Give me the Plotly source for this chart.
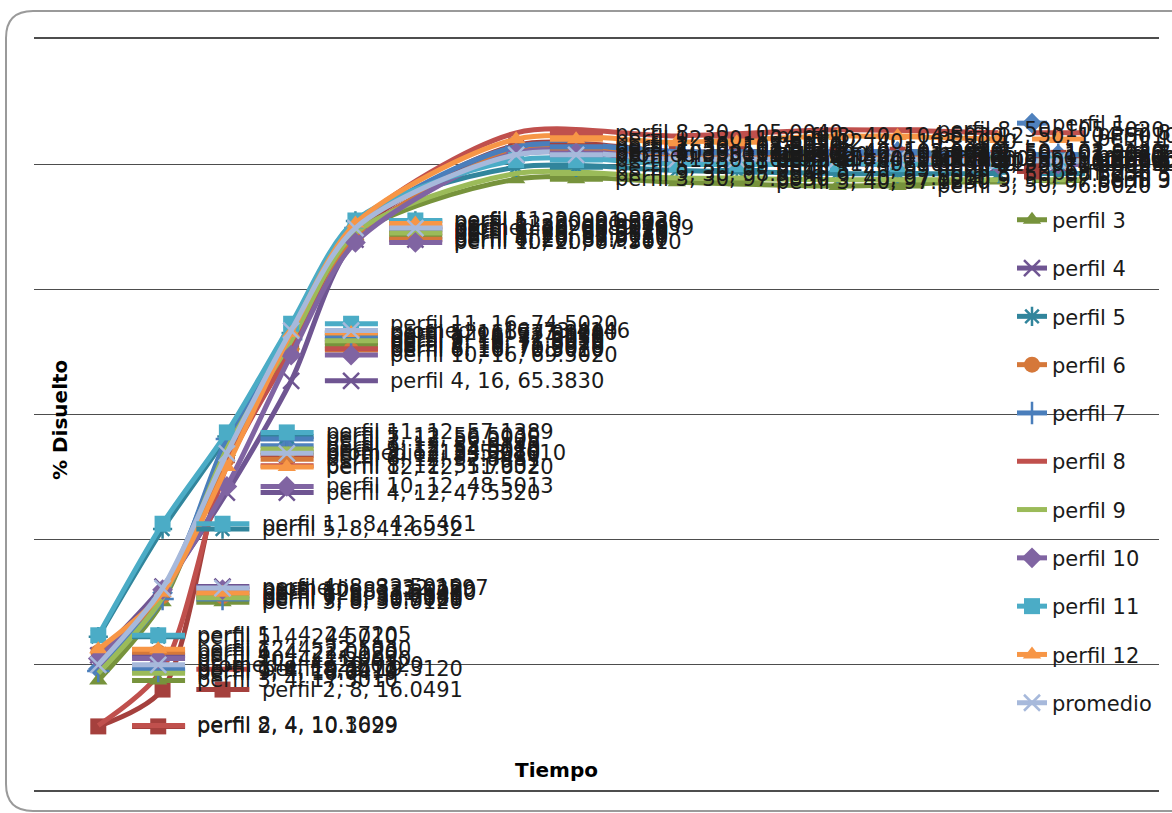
import plotly.graph_objects as go

# ---- data ----
tiempo = [4, 8, 12, 16, 20, 30, 40, 50, 60]

series_names = ["perfil 1", "perfil 2", "perfil 3", "perfil 4", "perfil 5", "perfil 6",
                "perfil 7", "perfil 8", "perfil 9", "perfil 10", "perfil 11", "perfil 12",
                "promedio"]

perfil_1 = [19.3412, 31.5120, 55.0140, 72.5010, 89.5120, 102.5030, 101.5210, 102.0140, 101.5020]
perfil_2 = [10.1629, 16.0491, 53.5010, 71.5020, 89.0110, 103.0120, 102.0040, 101.5020, 101.0030]
perfil_3 = [17.5010, 30.0120, 54.0010, 71.0070, 88.5010, 97.6030, 97.1230, 96.5020, 97.3905]
perfil_4 = [21.5030, 32.5010, 47.5320, 65.3830, 87.9287, 101.5030, 100.5040, 100.0020, 100.0010]
perfil_5 = [24.5010, 41.6932, 56.5030, 73.0120, 90.9373, 99.5010, 99.0020, 98.5030, 98.5010]
perfil_6 = [22.0120, 31.0040, 52.8481, 70.3010, 88.0110, 102.0030, 101.0040, 101.0010, 100.5020]
perfil_7 = [19.0010, 30.5020, 56.0905, 72.0050, 89.8010, 102.8020, 102.0010, 101.8030, 101.5040]
perfil_8 = [10.3099, 19.3120, 51.7932, 70.5020, 90.0040, 105.0040, 104.5030, 105.5020, 105.0010]
perfil_9 = [18.6479, 30.7381, 54.5020, 71.8010, 89.0120, 98.5040, 97.8010, 97.5030, 97.5020]
perfil_10 = [21.0030, 32.0120, 48.5013, 69.5020, 87.5010, 101.8010, 100.8030, 100.5010, 100.0040]
perfil_11 = [24.7205, 42.5461, 57.1389, 74.5020, 91.0020, 100.6549, 100.0040, 100.0030, 100.5020]
perfil_12 = [22.5030, 31.5010, 51.6020, 73.0040, 90.5030, 104.0010, 103.5020, 104.5010, 104.0030]
promedio = [20.0120, 32.2597, 53.8010, 73.4146, 89.7939, 101.5020, 100.8010, 100.8030, 100.5010]

valores = [perfil_1, perfil_2, perfil_3, perfil_4, perfil_5, perfil_6, perfil_7,
           perfil_8, perfil_9, perfil_10, perfil_11, perfil_12, promedio]

# ---- styles ----
colores = ["#4F81BD", "#A5403D", "#77933C", "#6F5592", "#31859C", "#D5783A",
           "#4A7EBB", "#C0504D", "#9BBB59", "#8064A2", "#4BACC6", "#F79646", "#A7B9DB"]
simbolos = ["diamond", "square", "triangle-up", "x-thin-open", "asterisk-open", "circle",
            "cross-thin-open", None, None, "diamond", "square", "triangle-up", "x-thin-open"]

FONT = "DejaVu Sans"
X0, X1 = 34, 1159      # plot-area pixel extents
Y0, Y1 = 790, 39

def px_x(p):
    return (p - X0) / (X1 - X0)

def px_y(p):
    return (Y0 - p) / (Y0 - Y1)

fig = go.Figure()

def marker_for(sym, col, size):
    if sym is None:
        return None
    open_sym = sym.endswith("open")
    return dict(symbol=sym, size=size, color=col,
                line=dict(color=col, width=2.5 if open_sym else 0))

# main series
for i, (name, vals) in enumerate(zip(series_names, valores)):
    sym = simbolos[i]
    col = colores[i]
    fig.add_trace(go.Scatter(
        x=tiempo, y=vals, name=name, legendgroup=name,
        mode="lines+markers" if sym else "lines",
        line=dict(color=col, width=5, shape="spline", smoothing=0.8),
        marker=marker_for(sym, col, 16) if sym else None,
        cliponaxis=False,
    ))

# data-label legend keys (line segment + marker to the right of each point)
K_START, K_MID, K_END = 2.1, 3.73, 5.4
for i, (name, vals) in enumerate(zip(series_names, valores)):
    sym = simbolos[i]
    col = colores[i]
    kx, ky = [], []
    for t, v in zip(tiempo, vals):
        kx += [t + K_START, t + K_END, None]
        ky += [v, v, None]
    fig.add_trace(go.Scatter(x=kx, y=ky, mode="lines", showlegend=False,
                             line=dict(color=col, width=5), hoverinfo="skip",
                             cliponaxis=False))
    if sym:
        fig.add_trace(go.Scatter(x=[t + K_MID for t in tiempo], y=vals, mode="markers",
                                 showlegend=False, marker=marker_for(sym, col, 16),
                                 hoverinfo="skip", cliponaxis=False))

annotations = []
for name, vals in zip(series_names, valores):
    for t, v in zip(tiempo, vals):
        annotations.append(dict(
            x=t, y=v, xref="x", yref="y", text=f"{name}, {t}, {v:.4f}",
            showarrow=False, xanchor="left", yanchor="middle", xshift=97,
            font=dict(family=FONT, size=21, color="#1a1a1a"),
        ))

annotations.append(dict(x=px_x(556), y=px_y(770), xref="paper", yref="paper",
                        xanchor="center", yanchor="middle",
                        text="<b>Tiempo</b>", showarrow=False,
                        font=dict(family=FONT, size=20, color="#000")))
annotations.append(dict(x=px_x(60), y=px_y(420), xref="paper", yref="paper",
                        xanchor="center", yanchor="middle",
                        text="<b>% Disuelto</b>", showarrow=False, textangle=-90,
                        font=dict(family=FONT, size=20, color="#000")))

# rounded outer border (left corners visible, right side cut off)
bx0, by0, bx1, by1, r = px_x(6), px_y(11), px_x(1185), px_y(811), 0.024
ry = r * (X1 - X0) / (Y0 - Y1)
path = (f"M {bx1},{by1} L {bx0 + r},{by1} Q {bx0},{by1} {bx0},{by1 + ry} "
        f"L {bx0},{by0 - ry} Q {bx0},{by0} {bx0 + r},{by0} L {bx1},{by0}")

fig.update_layout(
    width=1172, height=813,
    margin=dict(l=X0, r=1172 - X1, t=Y1, b=813 - Y0),
    paper_bgcolor="white", plot_bgcolor="white",
    font=dict(family=FONT, size=21, color="#1a1a1a"),
    showlegend=True,
    legend=dict(x=px_x(1012), y=px_y(103), xanchor="left", yanchor="top",
                bgcolor="rgba(0,0,0,0)", tracegroupgap=18,
                font=dict(family=FONT, size=21, color="#1a1a1a")),
    xaxis=dict(range=[0, 70], showgrid=False, showticklabels=False, zeroline=False,
               showline=True, mirror=True, linecolor="#4d4d4d", linewidth=1.5, ticks=""),
    yaxis=dict(range=[0, 120], dtick=20, showgrid=True, gridcolor="#4d4d4d", gridwidth=1.3,
               showticklabels=False, zeroline=False, showline=False, ticks=""),
    annotations=annotations,
    shapes=[dict(type="path", path=path, xref="paper", yref="paper",
                 line=dict(color="#9a9a9a", width=2), layer="below")],
)

fig.write_html("out.html")
